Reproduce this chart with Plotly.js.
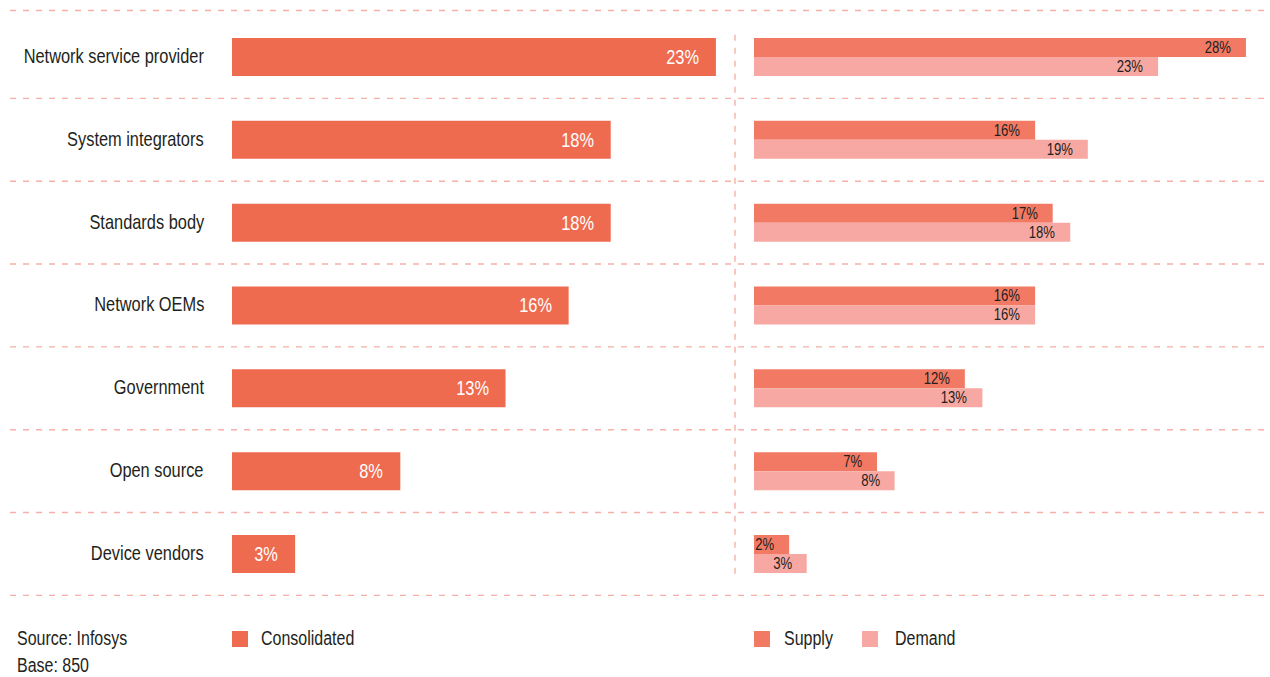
<!DOCTYPE html>
<html>
<head>
<meta charset="utf-8">
<script src="https://cdn.plot.ly/plotly-3.0.1.min.js"></script>
<style>
  html, body { margin: 0; padding: 0; background: #ffffff; }
  #chart { width: 1270px; height: 677px; }
</style>
</head>
<body>
<div id="chart"></div>
<script>
// Who should drive the agenda: share of respondents by stakeholder
const categories = [
  "Network service provider",
  "System integrators",
  "Standards body",
  "Network OEMs",
  "Government",
  "Open source",
  "Device vendors"
];
const consolidated = [23, 18, 18, 16, 13, 8, 3];
const supply = [28, 16, 17, 16, 12, 7, 2];
const demand = [23, 19, 18, 16, 13, 8, 3];

const sourceLines = ["Source: Infosys", "Base: 850"];
const legendLeft = ["Consolidated"];
const legendRight = ["Supply", "Demand"];

const FONT = '"Liberation Sans", Arial, sans-serif';
const NARROW = 0.82;                 // horizontal squeeze giving a condensed face
const C_CONS = "#EE6B4F";
const C_SUP = "#F27A65";
const C_DEM = "#F8A8A2";
const C_GRID = "#F8AFA6";
const C_TEXT = "#231F20";

const W = 1270, H = 677;
const px = v => v / W;              // horizontal pixel -> paper fraction
const py = v => (H - v) / H;        // vertical pixel -> paper fraction

const traces = [
  {
    type: "bar", orientation: "h", name: legendLeft[0],
    y: categories, x: consolidated, xaxis: "x", yaxis: "y",
    marker: { color: C_CONS }, width: 0.459, offset: -0.2295,
    hoverinfo: "skip"
  },
  {
    type: "bar", orientation: "h", name: legendRight[0],
    y: categories, x: supply, xaxis: "x2", yaxis: "y",
    marker: { color: C_SUP }, width: 0.2295, offset: -0.2295,
    hoverinfo: "skip"
  },
  {
    type: "bar", orientation: "h", name: legendRight[1],
    y: categories, x: demand, xaxis: "x2", yaxis: "y",
    marker: { color: C_DEM }, width: 0.2295, offset: 0,
    hoverinfo: "skip"
  }
];

const annotations = [];

// category labels
categories.forEach(c => annotations.push({
  xref: "paper", yref: "y", x: px(206), y: c, xanchor: "right", yanchor: "middle",
  yshift: 1, text: c, showarrow: false, font: { family: FONT, size: 20, color: C_TEXT }
}));

// value labels inside the consolidated bars
categories.forEach((c, i) => annotations.push({
  xref: "x", yref: "y", x: consolidated[i], y: c, xanchor: "right", yanchor: "middle",
  xshift: -15, text: consolidated[i] + "%", showarrow: false,
  font: { family: FONT, size: 20, color: "#ffffff" }
}));

// value labels inside the supply / demand bars
categories.forEach((c, i) => {
  annotations.push({
    xref: "x2", yref: "y", x: supply[i], y: c, xanchor: "right", yanchor: "middle",
    xshift: -13, yshift: 9.5, text: supply[i] + "%", showarrow: false,
    font: { family: FONT, size: 16, color: C_TEXT }
  });
  annotations.push({
    xref: "x2", yref: "y", x: demand[i], y: c, xanchor: "right", yanchor: "middle",
    xshift: -13, yshift: -9.5, text: demand[i] + "%", showarrow: false,
    font: { family: FONT, size: 16, color: C_TEXT }
  });
});

// footer: source and legend
sourceLines.forEach((t, i) => annotations.push({
  xref: "paper", yref: "paper", x: px(15), y: py(638 + i * 27), xanchor: "left", yanchor: "middle",
  text: t, showarrow: false, font: { family: FONT, size: 19.5, color: C_TEXT }
}));

const legendItems = [
  { label: legendLeft[0], color: C_CONS, box: 232, text: 259 },
  { label: legendRight[0], color: C_SUP, box: 754, text: 782 },
  { label: legendRight[1], color: C_DEM, box: 862, text: 893 }
];

const shapes = [];
legendItems.forEach(it => {
  annotations.push({
    xref: "paper", yref: "paper", x: px(it.text), y: py(638), xanchor: "left", yanchor: "middle",
    text: it.label, showarrow: false, font: { family: FONT, size: 19.5, color: C_TEXT }
  });
  shapes.push({
    type: "rect", xref: "paper", yref: "paper",
    x0: px(it.box), x1: px(it.box + 16), y0: py(647), y1: py(631),
    fillcolor: it.color, line: { width: 0 }
  });
});

// dashed row separators
const sepY = [-0.561, 0.5, 1.5, 2.5, 3.5, 4.5, 5.5, 6.5];
sepY.forEach(v => shapes.push({
  type: "line", xref: "paper", yref: "y", x0: px(10), x1: 1, y0: v, y1: v,
  line: { color: C_GRID, width: 1.4, dash: "6px,7px" }
}));

// dashed divider between the two panels
shapes.push({
  type: "line", xref: "paper", yref: "y", x0: px(735), x1: px(735), y0: -0.27, y1: 6.26,
  line: { color: C_GRID, width: 1.4, dash: "6px,7px" }
});

const layout = {
  width: W, height: H,
  margin: { l: 0, r: 0, t: 0, b: 0, pad: 0 },
  paper_bgcolor: "#ffffff", plot_bgcolor: "rgba(0,0,0,0)",
  showlegend: false,
  barmode: "overlay",
  font: { family: FONT, color: C_TEXT },
  xaxis: {
    domain: [px(232), px(232 + 21.04 * 23.5)], range: [0, 23.5],
    visible: false, fixedrange: true
  },
  xaxis2: {
    domain: [px(754), px(754 + 17.57 * 29)], range: [0, 29],
    anchor: "y", visible: false, fixedrange: true
  },
  yaxis: {
    type: "category", categoryarray: categories, categoryorder: "array",
    range: [6.6, -0.6], domain: [py(57 + 82.83 * 6.6), py(57 - 82.83 * 0.6)],
    visible: false, fixedrange: true
  },
  annotations: annotations,
  shapes: shapes
};

Plotly.newPlot("chart", traces, layout, { staticPlot: true, displayModeBar: false }).then(gd => {
  // squeeze each label horizontally about its anchored edge
  gd.layout.annotations.forEach((a, i) => {
    const t = gd.querySelector('g.annotation[data-index="' + i + '"] text.annotation-text');
    if (!t) return;
    t.style.transformBox = "fill-box";
    t.style.transformOrigin = (a.xanchor === "right" ? "right" : "left") + " center";
    t.style.transform = "scaleX(" + NARROW + ")";
  });
});
</script>
</body>
</html>
